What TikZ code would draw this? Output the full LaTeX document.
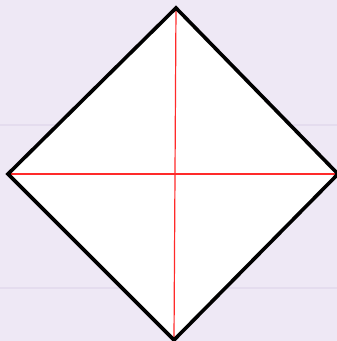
\documentclass[tikz,border=0pt]{standalone}
\usetikzlibrary{calc}
\definecolor{bgLavender}{HTML}{EEE8F5}
\definecolor{ruleLavender}{HTML}{E4DCEE}
\definecolor{axisRed}{HTML}{FF2A2A}

\begin{document}
\begin{tikzpicture}[
    x=1pt, y=1pt,
    rhomb/.style={draw=black, line width=3.6pt, line join=miter},
    axis/.style={draw=axisRed, line width=1.2pt},
    guide/.style={draw=ruleLavender, line width=1.6pt},
  ]
    \fill[bgLavender] (0, 0) rectangle (337, 341);
    \useasboundingbox (0, 0) rectangle (337, 341);
    % faint guide lines
    \draw[guide] (0, 216) -- (337, 216);
    \draw[guide] (0, 53) -- (337, 53);
    % corners of the diamond
    \coordinate (top) at (176, 333);
    \coordinate (left) at (8, 167);
    \coordinate (right) at (338, 167);
    \coordinate (bottom) at (174, 1);
    \fill[white] (top) -- (right) -- (bottom) -- (left) -- cycle;
    % diagonals, under the outline
    \draw[axis] (top) -- (bottom);
    \draw[axis] (left) -- (right);
    \draw[rhomb] (top) -- (right) -- (bottom) -- (left) -- cycle;
  \end{tikzpicture}
\end{document}
